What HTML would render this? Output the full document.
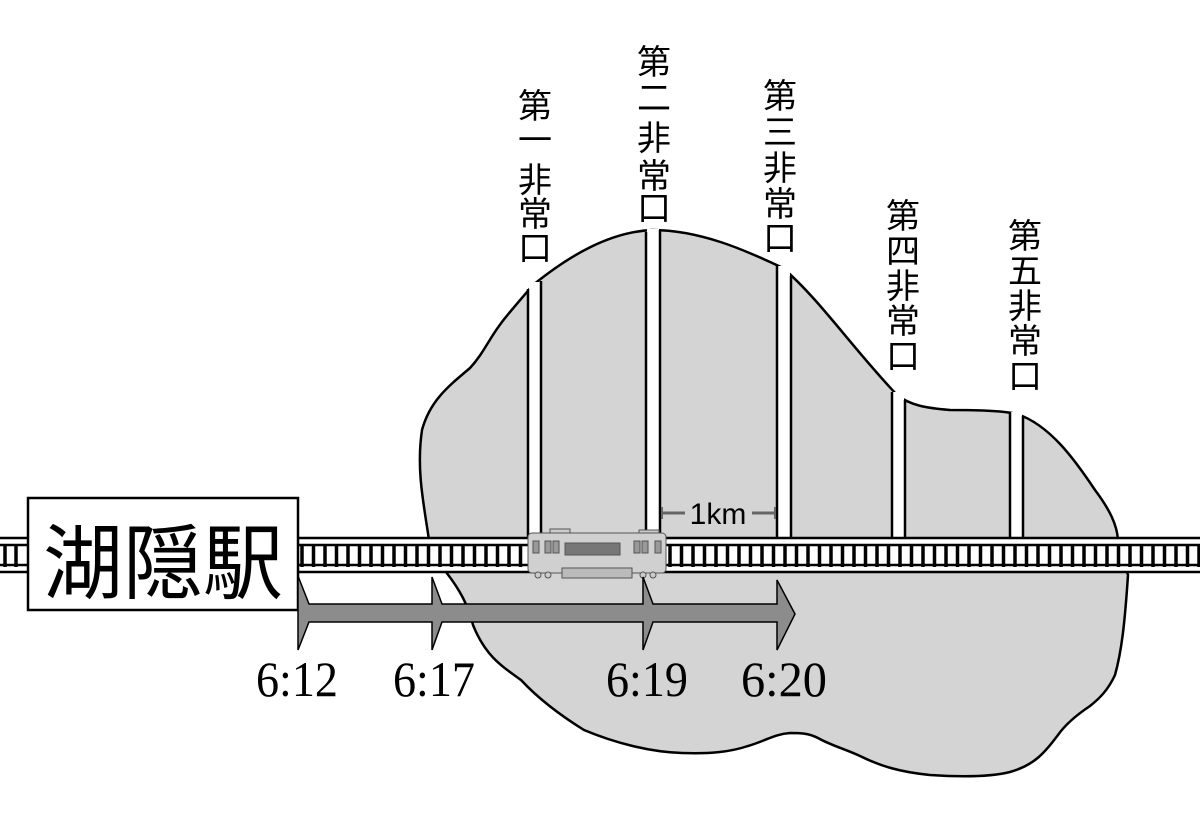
<!DOCTYPE html>
<html><head><meta charset="utf-8"><style>
html,body{margin:0;padding:0;background:#fff;width:1200px;height:828px;overflow:hidden}
svg{display:block}
.v{font-family:"Liberation Sans","Noto Sans CJK JP",sans-serif;font-size:34px;fill:#000}
.t{font-family:"Liberation Serif",serif;font-size:50px;fill:#000}
</style></head><body>
<svg width="1200" height="828" viewBox="0 0 1200 828" xmlns="http://www.w3.org/2000/svg">
<path d="M429,540 C424,505 416,470 422,430 C430,400 450,385 470,368 C485,352 490,335 510,312 C520,300 527,292 533,285
C570,255 610,232 652,230 C700,230 745,250 783,268
C820,300 850,345 897,395 C910,405 925,408 950,410 C985,410 1005,411 1017,414
C1050,425 1075,460 1095,490 C1110,510 1117,525 1118,540
L1128,575 C1125,620 1122,650 1115,675 C1108,690 1100,698 1090,706 C1075,716 1065,725 1058,735 C1045,752 1035,765 1010,772
C990,777 960,777 930,775 C900,772 880,766 860,756 C845,749 830,745 818,738 C808,733 800,733 790,733 C775,734 765,741 748,746
C730,752 710,754 682,753 C650,752 615,743 584,730 C555,712 535,695 521,680 C500,665 485,655 473,625
C468,605 460,590 446,572 Z" fill="#d4d4d4" stroke="#000" stroke-width="2.5"/>
<g fill="#fff" stroke="#000" stroke-width="2.5">
<rect x="529" y="282" width="11" height="256" stroke="none"/>
<path d="M528,289 L528,538 M541,281 L541,538"/>
<rect x="647" y="229" width="12" height="309" stroke="none"/>
<path d="M646,232 L646,538 M660,230 L660,538"/>
<rect x="778" y="266" width="12" height="272" stroke="none"/>
<path d="M777,266 L777,538 M791,276 L791,538"/>
<rect x="893" y="392" width="11" height="146" stroke="none"/>
<path d="M892,392 L892,538 M905,400 L905,538"/>
<rect x="1011" y="412" width="11" height="126" stroke="none"/>
<path d="M1010,412 L1010,538 M1023,416 L1023,538"/>
</g>
<rect x="0" y="537" width="1200" height="35" fill="#fff"/>
<g stroke="#000">
<line x1="0" y1="538" x2="1200" y2="538" stroke-width="2.5"/>
<line x1="0" y1="545" x2="1200" y2="545" stroke-width="2.5"/>
<line x1="0" y1="565" x2="1200" y2="565" stroke-width="2.5"/>
<line x1="0" y1="572" x2="1200" y2="572" stroke-width="2.5"/>
</g>
<g stroke="#000" stroke-width="3.5">
<path d="M5,544V567M16,544V567"/>
</g>
<path id="tp" d="" stroke="#000" stroke-width="3.5"/>
<rect x="28" y="498" width="270" height="112" fill="#fff" stroke="#000" stroke-width="2.5"/>
<text x="163" y="592" text-anchor="middle" font-family="'Liberation Sans','Noto Sans CJK JP',sans-serif" font-size="82" textLength="240" lengthAdjust="spacingAndGlyphs">湖隠駅</text>
<g stroke="#555" stroke-width="1">
<rect x="550" y="529" width="20" height="5" fill="#ccc"/>
<rect x="639" y="530" width="20" height="4" fill="#ccc"/>
<rect x="528" y="533" width="138" height="40" rx="4" fill="#d0d0d0"/>
<rect x="565" y="543" width="55" height="12" fill="#777"/>
<rect x="533" y="541" width="6" height="12" fill="#999"/>
<rect x="545" y="541" width="6" height="12" fill="#999"/>
<rect x="553" y="541" width="6" height="12" fill="#999"/>
<rect x="634" y="541" width="6" height="12" fill="#999"/>
<rect x="642" y="541" width="6" height="12" fill="#999"/>
<rect x="655" y="541" width="6" height="12" fill="#999"/>
<rect x="562" y="568" width="70" height="10" fill="#bbb"/>
<circle cx="538" cy="575" r="3" fill="#ccc"/><circle cx="548" cy="575" r="3" fill="#ccc"/>
<circle cx="643" cy="575" r="3" fill="#ccc"/><circle cx="653" cy="575" r="3" fill="#ccc"/>
</g>
<line x1="662" y1="513" x2="685" y2="513" stroke="#666" stroke-width="3"/>
<line x1="752" y1="513" x2="775" y2="513" stroke="#666" stroke-width="3"/>
<line x1="662" y1="507" x2="662" y2="519" stroke="#666" stroke-width="2"/>
<line x1="775" y1="507" x2="775" y2="519" stroke="#666" stroke-width="2"/>
<text x="718" y="524" text-anchor="middle" font-family="'Liberation Sans',sans-serif" font-size="30">1km</text>
<g fill="#8c8c8c" stroke="#000" stroke-width="1.5">
<path d="M298,576 L309,604 L432,604 L432,577 L442,604 L643,604 L643,577 L653,604 L777,604 L777,580 L795,614 L777,650 L777,622 L653,622 L643,650 L643,622 L442,622 L432,650 L432,622 L309,622 L298,650 Z"/>
</g>
<text class="t" x="256" y="696" textLength="82" lengthAdjust="spacingAndGlyphs">6:12</text>
<text class="t" x="393" y="696" textLength="82" lengthAdjust="spacingAndGlyphs">6:17</text>
<text class="t" x="606" y="696" textLength="82" lengthAdjust="spacingAndGlyphs">6:19</text>
<text class="t" x="741" y="696" textLength="86" lengthAdjust="spacingAndGlyphs">6:20</text>
<g class="v" text-anchor="middle">
<text x="535" y="118">第</text><text x="535" y="152">一</text><text x="535" y="192">非</text><text x="535" y="226">常</text><text x="535" y="260">口</text>
<text x="654" y="74">第</text><text x="654" y="110">二</text><text x="654" y="150">非</text><text x="654" y="188">常</text><text x="654" y="220">口</text>
<text x="780" y="108">第</text><text x="780" y="144">三</text><text x="780" y="180">非</text><text x="780" y="216">常</text><text x="780" y="250">口</text>
<text x="903" y="228">第</text><text x="903" y="263">四</text><text x="903" y="298">非</text><text x="903" y="333">常</text><text x="903" y="368">口</text>
<text x="1025" y="248">第</text><text x="1025" y="283">五</text><text x="1025" y="318">非</text><text x="1025" y="353">常</text><text x="1025" y="388">口</text>
</g>
</svg>
<script>
(function(){var d="";for(var x=302;x<1200;x+=11.5){if(x>526&&x<668)continue;d+="M"+x.toFixed(1)+",544V567";}
document.getElementById("tp").setAttribute("d",d);})();
</script>
</body></html>
